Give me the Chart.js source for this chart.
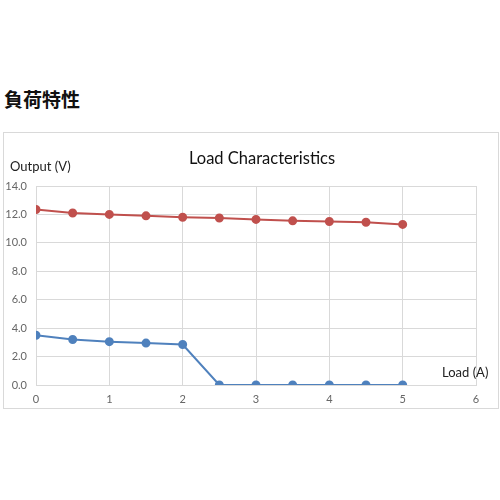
<!DOCTYPE html>
<html>
<head>
<meta charset="utf-8">
<script src="https://cdn.jsdelivr.net/npm/chart.js@4"></script>
<style>
  body { margin: 0; background: #fff; }
  #wrap { position: relative; width: 500px; height: 500px; }
  #heading { position: absolute; left: 4px; top: 85px; font: bold 19px "Noto Sans CJK JP"; color: #111; }
  #frame { position: absolute; left: 3px; top: 132px; width: 494px; height: 275px; border: 1px solid #d9d9d9; }
  #title { position: absolute; left: 162px; width: 200px; top: 148px; text-align: center; font: 16.5px Lato; color: #111; }
  #ylab { position: absolute; left: 10px; top: 158px; font: 13px Lato; color: #222; }
  #xlab { position: absolute; left: 442px; top: 364px; font: 13px Lato; color: #222; }
  canvas { position: absolute; left: 0; top: 0; }
</style>
</head>
<body>
<div id="wrap">
  <div id="heading">負荷特性</div>
  <div id="frame"></div>
  <canvas id="chart" width="500" height="500"></canvas>
  <div id="title">Load Characteristics</div>
  <div id="ylab">Output (V)</div>
  <div id="xlab">Load (A)</div>
</div>
<script>
// Datos
const loads = [0, 0.5, 1, 1.5, 2, 2.5, 3, 3.5, 4, 4.5, 5];
const outputHigh = [12.35, 12.1, 12.0, 11.9, 11.8, 11.75, 11.65, 11.55, 11.5, 11.45, 11.3];
const outputLow = [3.5, 3.2, 3.05, 2.95, 2.85, 0, 0, 0, 0, 0, 0];

function toPoints(values) {
    return loads.map((x, i) => ({ x: x, y: values[i] }));
}

const ctx = document.getElementById('chart').getContext('2d');
const chart = new Chart(ctx, {
    type: 'line',
    data: {
        datasets: [
            {
                label: 'High',
                data: toPoints(outputHigh),
                borderColor: '#C0504D',
                backgroundColor: '#C0504D',
                borderWidth: 2,
                pointRadius: 3.5,
                tension: 0,
            },
            {
                label: 'Low',
                data: toPoints(outputLow),
                borderColor: '#4F81BD',
                backgroundColor: '#4F81BD',
                borderWidth: 2,
                pointRadius: 3.5,
                tension: 0,
            },
        ]
    },
    options: {
        responsive: false,
        animation: false,
        layout: { padding: { left: 0, right: 24, top: 186, bottom: 93 } },
        plugins: {
            legend: { display: false },
            tooltip: { enabled: false },
            title: { display: false },
        },
        scales: {
            x: {
                type: 'linear',
                min: 0,
                max: 6,
                ticks: { stepSize: 1, color: '#666', font: { family: 'Lato', size: 11 }, padding: 8 },
                grid: { color: '#d9d9d9', drawTicks: false },
                border: { color: '#d9d9d9' },
                afterFit: (scale) => { scale.height = 22; },
            },
            y: {
                min: 0,
                max: 14,
                ticks: {
                    stepSize: 2,
                    color: '#666',
                    font: { family: 'Lato', size: 11 },
                    padding: 9,
                    callback: (v) => v.toFixed(1),
                },
                grid: { color: '#d9d9d9', drawTicks: false },
                border: { display: false },
                afterFit: (scale) => { scale.width = 36; },
            }
        }
    }
});
</script>
</body>
</html>
